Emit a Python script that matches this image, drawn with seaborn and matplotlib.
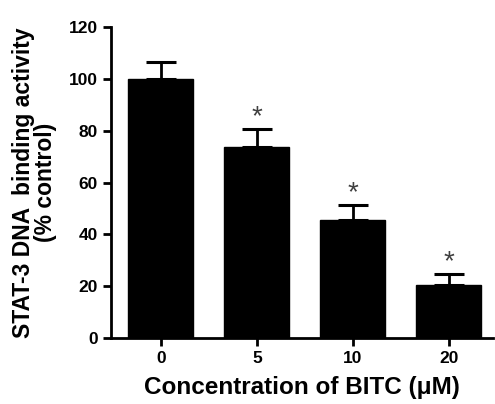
import numpy as np
import pandas as pd
import seaborn as sns
from matplotlib import pyplot as plt

doses = ["0", "5", "10", "20"]
activity = [100.0, 73.9, 45.6, 20.5]
sem = [6.4, 6.9, 5.9, 4.1]
significant = [False, True, True, True]

data = pd.DataFrame({"dose": doses, "activity": activity})

sns.set_theme(style="ticks")
plt.rcParams["font.family"] = ["Liberation Sans", "DejaVu Sans"]
plt.rcParams["font.weight"] = "bold"
plt.rcParams["text.color"] = "black"
plt.rcParams["axes.labelcolor"] = "black"

fig = plt.figure(figsize=(4.95, 4.04), dpi=100)
ax = fig.add_axes([0.224, 0.163, 0.772, 0.770])

sns.barplot(data=data, x="dose", y="activity", color="black", edgecolor="black",
            width=0.68, errorbar=None, ax=ax)
ax.errorbar(np.arange(len(doses)), activity, yerr=[np.zeros(len(sem)), sem],
            fmt="none", ecolor="black", elinewidth=2.0, capsize=11, capthick=2.2)

# significance marks
for i, (v, e, s) in enumerate(zip(activity, sem, significant)):
    if s:
        ax.text(i, v + e - 0.5, "*", ha="center", va="bottom", fontsize=20,
                color="#404040", fontweight="normal")

ax.set_xlim(-0.52, 3.46)
ax.set_ylim(0, 120)
ax.set_yticks(range(0, 121, 20))
sns.despine(ax=ax)
for side in ["left", "bottom"]:
    ax.spines[side].set_linewidth(2.0)
    ax.spines[side].set_color("black")
ax.tick_params(axis="both", width=2.0, length=6, colors="black", labelsize=12.5)
for lab in ax.get_xticklabels() + ax.get_yticklabels():
    lab.set_fontweight("bold")

ax.set_xlabel("Concentration of BITC (\u03bcM)", fontsize=17.5, fontweight="bold", labelpad=7)
ax.set_ylabel("STAT-3 DNA  binding activity\n(% control)", fontsize=16.5,
              fontweight="bold", labelpad=8, linespacing=0.95)

plt.savefig("out.png", dpi=100)
